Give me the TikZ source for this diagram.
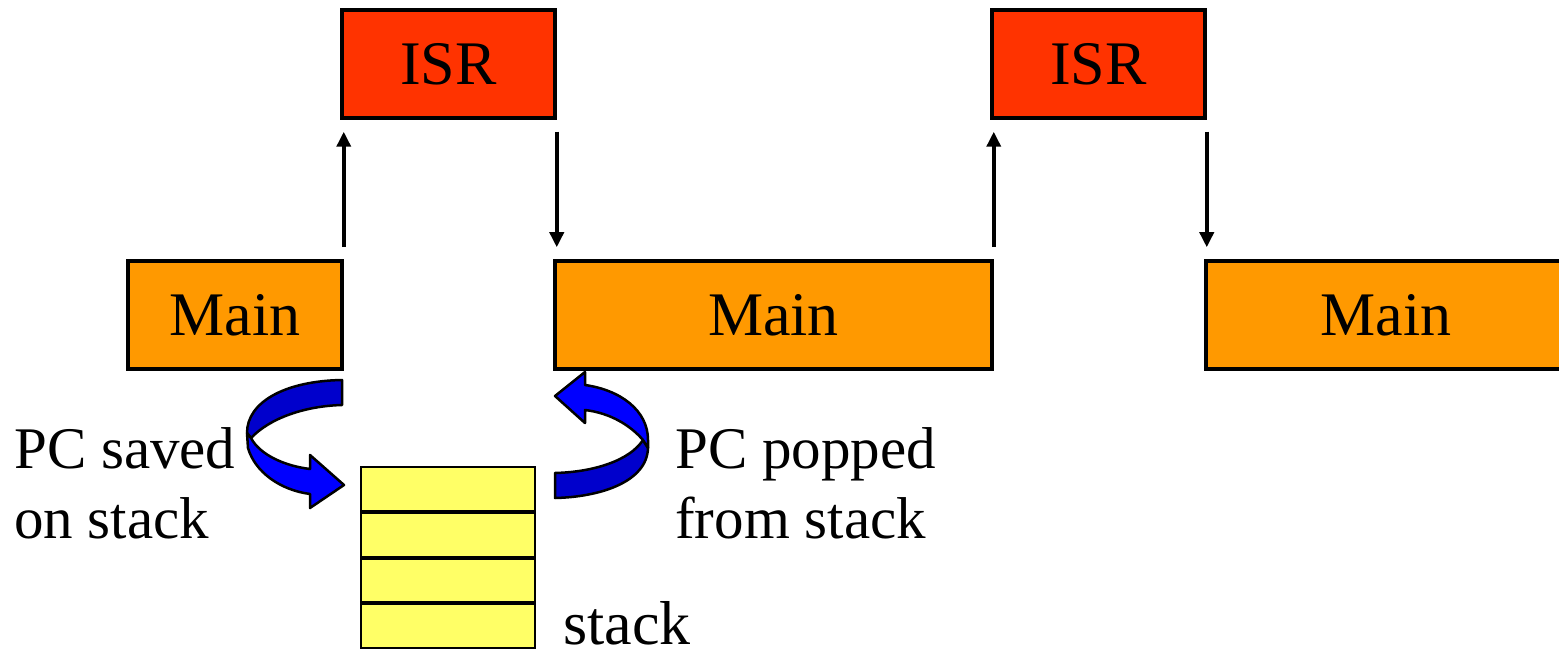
\documentclass[tikz,border=0pt]{standalone}
\usepackage{fontspec}
\setmainfont{Liberation Serif}
\newfontfamily\slidefont{Liberation Serif}
\usetikzlibrary{arrows.meta}
\definecolor{isrred}{HTML}{FF3300}
\definecolor{mainorange}{HTML}{FF9900}
\definecolor{stackyellow}{HTML}{FFFF66}
\definecolor{bluelight}{HTML}{0000FF}
\definecolor{bluedark}{HTML}{0000CC}
\tikzset{
  blockbox/.style={draw=black, line width=3.5pt, minimum height=108pt,
    inner sep=0pt, font=\slidefont\fontsize{62}{70}\selectfont},
  isrbox/.style={blockbox, fill=isrred, minimum width=213pt},
  mainbox/.style={blockbox, fill=mainorange},
  cell/.style={draw=black, line width=2pt, fill=stackyellow,
    minimum width=174pt, minimum height=43.75pt, inner sep=0pt},
  flow/.style={line width=3.5pt, -{Triangle[length=15pt,width=14pt]}},
  caption/.style={font=\slidefont\fontsize{59}{70}\selectfont, inner sep=0pt},
  pcarrow/.style={draw=black, line width=2.5pt, line join=round}
}
\begin{document}
\begin{tikzpicture}[x=1pt, y=-1pt]
\useasboundingbox (0,0) rectangle (1559,652);
\clip (0,0) rectangle (1559,652);

% interrupt service routines
\node[isrbox] (isr1) at (448.5,64) {ISR};
\node[isrbox] (isr2) at (1098.5,64) {ISR};

% main program segments
\node[mainbox, minimum width=214pt] (main1) at (235,315) {Main};
\node[mainbox, minimum width=437pt] (main2) at (773.5,315) {Main};
\node[mainbox, minimum width=360pt] (main3) at (1386,315) {Main};

% control transfers (vertical, with a small gap to each box)
\draw[flow] ([yshift=12pt]main1.north east) -- ([yshift=-12pt]main1.north east |- isr1.south);
\draw[flow] ([yshift=-12pt]isr1.south east) -- ([yshift=12pt]isr1.south east |- main2.north);
\draw[flow] ([yshift=12pt]main2.north east) -- ([yshift=-12pt]main2.north east |- isr2.south);
\draw[flow] ([yshift=-12pt]isr2.south east) -- ([yshift=12pt]isr2.south east |- main3.north);

% the stack
\node[cell] (s1) at (448,488.9) {};
\node[cell, anchor=north] (s2) at (s1.south) {};
\node[cell, anchor=north] (s3) at (s2.south) {};
\node[cell, anchor=north] (s4) at (s3.south) {};

% PC pushed onto the stack
\path[pcarrow, fill=bluedark] (342,380) .. controls (285,381) and (247,402) .. (247,433)
  -- (251,438) .. controls (270,418) and (305,406) .. (342,405) -- cycle;
\path[pcarrow, fill=bluelight] (247,433) -- (248,448)
  .. controls (255,472) and (280,490) .. (310,494) -- (310,508) -- (344,485)
  -- (310,455) -- (310,469) .. controls (285,466) and (260,455) .. (251,438) -- cycle;

% PC popped from the stack
\path[pcarrow, fill=bluedark] (643,440) .. controls (630,460) and (595,472) .. (555,473)
  -- (555,498) .. controls (600,497) and (647,482) .. (648,448) -- cycle;
\path[pcarrow, fill=bluelight] (555,396) -- (585,372) -- (585,385)
  .. controls (620,390) and (648,410) .. (648,440) -- (648,448) -- (643,440)
  .. controls (630,425) and (610,413) .. (585,410) -- (585,423) -- cycle;

% captions
\node[caption, anchor=base west] (saved1) at (14,468) {PC saved};
\node[caption, anchor=base west] (saved2) at (14,538) {on stack};
\node[caption, anchor=base west] (popped1) at (675,468) {PC popped};
\node[caption, anchor=base west] (popped2) at (675,538) {from stack};
\node[caption, anchor=base west, font=\slidefont\fontsize{62}{70}\selectfont]
  (stacklbl) at (563,644) {stack};
\end{tikzpicture}
\end{document}
